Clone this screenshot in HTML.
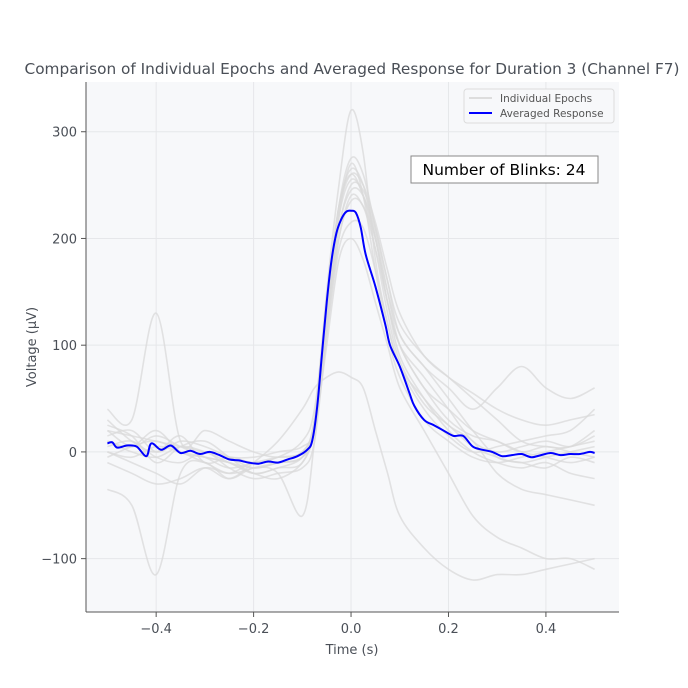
<!DOCTYPE html>
<html><head><meta charset="utf-8">
<style>
html,body{margin:0;padding:0;background:#fff;}
svg{display:block;font-family:"DejaVu Sans","Liberation Sans",sans-serif;}
</style></head>
<body>
<svg id="chart" width="688" height="688" viewBox="0 0 688 688" xmlns="http://www.w3.org/2000/svg">
  <rect width="688" height="688" fill="#fff"/>
  <rect x="86" y="82" width="533" height="530" fill="#f7f8fa"/>
  <g id="grid"></g>
  <g id="epochs"></g>
  <g id="avg"></g>
  <g id="axes"></g>
  <text x="352" y="74" text-anchor="middle" font-size="15" fill="#4a4f57" textLength="655" lengthAdjust="spacingAndGlyphs">Comparison of Individual Epochs and Averaged Response for Duration 3 (Channel F7)</text>
  <text x="352" y="654" text-anchor="middle" font-size="13" fill="#4a4f57">Time (s)</text>
  <text transform="translate(36,347) rotate(-90)" text-anchor="middle" font-size="13" fill="#4a4f57">Voltage (µV)</text>
  <g>
    <rect x="464" y="89" width="150" height="34" rx="3" fill="#f7f8fa" stroke="#dcdcdc"/>
    <line x1="469" y1="98" x2="492" y2="98" stroke="#dddddd" stroke-width="2"/>
    <text x="500" y="102" font-size="10.5" fill="#555">Individual Epochs</text>
    <line x1="469" y1="113" x2="492" y2="113" stroke="#0000ff" stroke-width="2"/>
    <text x="500" y="117" font-size="10.5" fill="#555">Averaged Response</text>
  </g>
  <g>
    <rect x="411" y="156" width="187" height="27" fill="#fff" stroke="#888"/>
    <text x="504" y="175" text-anchor="middle" font-size="15.5" fill="#000">Number of Blinks: 24</text>
  </g>
</svg>
<script>
const xTicks=[-0.4,-0.2,0.0,0.2,0.4];
const yTicks=[-100,0,100,200,300];
const avgT=[-0.5,-0.49,-0.48,-0.46,-0.44,-0.42,-0.41,-0.39,-0.37,-0.35,-0.33,-0.31,-0.29,-0.27,-0.25,-0.23,-0.21,-0.19,-0.17,-0.15,-0.13,-0.11,-0.09,-0.08,-0.07,-0.06,-0.05,-0.04,-0.03,-0.02,-0.01,0.0,0.01,0.02,0.03,0.05,0.07,0.08,0.10,0.12,0.13,0.15,0.17,0.19,0.21,0.23,0.25,0.27,0.29,0.31,0.33,0.35,0.37,0.39,0.41,0.43,0.45,0.47,0.49,0.5];
const avgV=[8,9,4,6,5,-4,8,2,6,-1,1,-2,0,-3,-7,-8,-10,-11,-9,-10,-7,-4,2,10,40,90,140,180,205,218,225,226,224,210,185,155,120,100,80,55,43,30,25,20,15,15,5,2,0,-4,-3,-2,-5,-3,-1,-3,-2,-2,0,-1];
const epT=[-0.5,-0.45,-0.4,-0.35,-0.3,-0.25,-0.2,-0.15,-0.1,-0.075,-0.05,-0.025,0,0.025,0.05,0.075,0.1,0.15,0.2,0.25,0.3,0.35,0.4,0.45,0.5];
const ep1=[10,5,20,0,-5,-10,-15,-10,0,20,120,220,270,240,170,110,70,30,10,-5,-10,-5,0,5,10];
const ep2=[25,15,-10,5,10,-5,-20,-15,-10,30,150,250,320,280,180,120,80,40,15,0,5,10,15,20,40];
const ep3=[-35,-50,-115,-20,-10,-25,-15,-20,-60,10,120,200,240,230,200,140,100,60,40,20,10,0,5,0,-5];
const ep4=[30,10,0,15,-10,-5,-10,-5,10,40,140,230,265,250,200,150,110,80,60,40,60,80,60,50,60];
const ep5=[0,-5,5,0,-5,-10,-20,-25,-10,20,100,180,200,180,140,100,60,20,-20,-60,-80,-90,-100,-100,-110];
const ep6=[-10,-20,-30,-25,-15,-25,-10,10,40,60,70,75,70,60,20,-20,-60,-90,-110,-120,-115,-115,-110,-105,-100];
const ep7=[15,20,0,10,5,-5,-15,-10,-5,30,130,210,250,245,210,160,120,90,70,50,30,10,5,5,20];
const ep8=[5,10,-5,-10,0,-15,-25,-20,-15,10,110,200,235,230,190,140,90,50,20,0,-10,-15,-10,-20,-25];
const ep9=[20,15,10,5,0,-5,-5,0,5,25,130,230,275,260,210,160,110,80,50,20,-5,-10,-15,-5,-10];
const ep10=[0,-10,-20,-30,-15,-20,-10,-10,-5,20,110,190,215,210,170,120,80,50,25,10,-20,-35,-40,-45,-50];
const ep11=[40,30,130,10,20,10,0,-5,0,30,140,230,260,240,200,140,100,70,40,10,0,5,10,5,15];
const ep12=[-5,5,10,0,-10,-20,-15,-10,-5,20,120,210,245,240,205,150,100,60,30,15,10,0,-5,-10,-5];
const ep13=[10,0,-5,5,0,-10,-20,-15,-5,25,125,220,255,240,190,130,85,45,25,5,-5,-10,-5,0,5];
const ep14=[20,5,15,5,-5,-15,-10,-5,0,30,130,225,260,250,215,170,130,90,70,55,40,30,25,30,35];
const epochs=[ep1,ep2,ep3,ep4,ep5,ep6,ep7,ep8,ep9,ep10,ep11,ep12,ep13,ep14];

const X0=86,X1=619,Y0=612,Y1=82,XMIN=-0.544,XMAX=0.55,YMIN=-150,YMAX=346.6;
function xs(t){return X0+(t-XMIN)/(XMAX-XMIN)*(X1-X0);}
function ys(v){return Y0-(v-YMIN)/(YMAX-YMIN)*(Y0-Y1);}
const NS="http://www.w3.org/2000/svg";
function mk(tag,attrs,parent){const e=document.createElementNS(NS,tag);for(const k in attrs)e.setAttribute(k,attrs[k]);parent.appendChild(e);return e;}
function smoothPath(T,V){
  const p=T.map((t,i)=>[xs(t),ys(V[i])]);
  let d="M"+p[0][0].toFixed(1)+","+p[0][1].toFixed(1);
  for(let i=0;i<p.length-1;i++){
    const p0=p[i-1]||p[i],p1=p[i],p2=p[i+1],p3=p[i+2]||p2;
    const c1=[p1[0]+(p2[0]-p0[0])/6,p1[1]+(p2[1]-p0[1])/6];
    const c2=[p2[0]-(p3[0]-p1[0])/6,p2[1]-(p3[1]-p1[1])/6];
    d+=" C"+c1[0].toFixed(1)+","+c1[1].toFixed(1)+" "+c2[0].toFixed(1)+","+c2[1].toFixed(1)+" "+p2[0].toFixed(1)+","+p2[1].toFixed(1);
  }
  return d;
}
const grid=document.getElementById('grid'),axes=document.getElementById('axes');
xTicks.forEach(t=>{
  const g=mk('line',{x1:xs(t),x2:xs(t),y1:Y1,y2:Y0,stroke:'#e6e7ea','stroke-width':1},grid);
  
  
  const tk=mk('line',{x1:xs(t),x2:xs(t),y1:Y0,y2:Y0+5,stroke:'#555'},axes);
  
  
  const lb=mk('text',{x:xs(t),y:Y0+21,'text-anchor':'middle','font-size':13,fill:'#4a4f57'},axes);
  lb.textContent=(t<0?'\u2212':'')+Math.abs(t).toFixed(1);
  
  
});
yTicks.forEach(v=>{
  const g=mk('line',{x1:X0,x2:X1,y1:ys(v),y2:ys(v),stroke:'#e6e7ea','stroke-width':1},grid);
  
  
  const tk=mk('line',{x1:X0-5,x2:X0,y1:ys(v),y2:ys(v),stroke:'#555'},axes);
  
  
  const lb=mk('text',{x:X0-9,y:ys(v)+5,'text-anchor':'end','font-size':13,fill:'#4a4f57'},axes);
  lb.textContent=(v<0?'\u2212':'')+Math.abs(v);
  
  
});
const la=mk('line',{x1:X0,x2:X0,y1:Y1,y2:Y0,stroke:'#555'},axes);


const lb2=mk('line',{x1:X0,x2:X1,y1:Y0,y2:Y0,stroke:'#555'},axes);


const eg=document.getElementById('epochs');
epochs.forEach(ep=>{
  const p=mk('path',{d:smoothPath(epT,ep),fill:'none',stroke:'#d9d9d9','stroke-width':1.6,'stroke-opacity':0.75},eg);
  
  
});
const a=mk('path',{d:smoothPath(avgT,avgV),fill:'none',stroke:'#0000ff','stroke-width':2},document.getElementById('avg'));


</script>
</body></html>
